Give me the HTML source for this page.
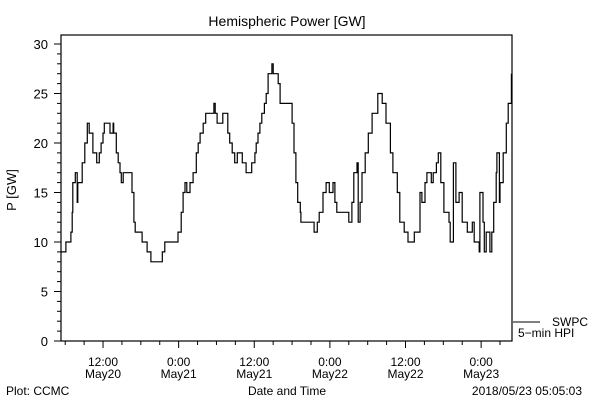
<!DOCTYPE html>
<html><head><meta charset="utf-8"><style>
body{margin:0;background:#fff}
svg{display:block;font-family:"Liberation Sans",sans-serif;font-size:12px}
</style></head><body>
<svg id="chart" width="600" height="400" viewBox="0 0 600 400">
<rect width="600" height="400" fill="#fff"/>
<text x="287" y="26" text-anchor="middle" font-size="14">Hemispheric Power [GW]</text>
<text transform="translate(16,190) rotate(-90)" text-anchor="middle" font-size="13">P [GW]</text>
<text x="287" y="395" text-anchor="middle">Date and Time</text>
<text x="6" y="395">Plot: CCMC</text>
<text x="582" y="395" text-anchor="end">2018/05/23 05:05:03</text>
<g id="axes"></g>
<g id="series"></g>
<line x1="513" y1="322" x2="540" y2="322" stroke="#000"/>
<text x="552" y="326">SWPC</text>
<text x="518" y="337">5−min HPI</text>
</svg>
<script>
const times=[5.3,6.1,6.8,6.9,7.1,7.2,7.6,7.9,8.0,8.3,8.7,9.1,9.5,9.8,10.4,11.0,11.4,11.7,12.0,12.2,12.9,13.1,13.6,13.7,14.1,14.4,14.7,14.9,15.2,16.3,16.6,16.9,17.1,17.9,18.2,18.8,19.0,19.6,21.2,21.4,21.8,23.7,23.9,24.4,24.7,25.0,25.3,25.8,26.3,26.8,27.1,27.4,27.9,28.3,29.5,29.6,29.8,30.1,30.9,31.0,31.5,31.8,32.1,32.5,32.9,33.3,33.7,34.1,34.7,35.5,35.6,36.1,36.3,36.6,36.9,37.2,37.6,37.9,38.2,38.8,39.0,39.8,40.1,41.8,42.0,42.3,42.6,42.9,43.3,43.4,45.2,45.5,46.0,46.3,46.9,47.4,47.9,48.5,48.8,49.1,50.6,51.0,51.5,51.8,52.3,52.5,52.8,53.1,53.6,54.1,54.7,55.6,56.3,56.9,57.6,58.0,58.7,59.1,59.8,60.4,61.4,62.3,62.6,63.1,63.4,64.1,64.4,64.9,65.2,65.6,66.1,66.9,67.1,67.6,68.0,68.5,69.0,69.8,70.6,70.9,71.7,71.8,72.3,72.5,72.8,73.3,73.4,73.7,74.0,74.4,74.5,74.9,75.0,75.5,76.0,76.3,76.8];
const power=[9,10,10,11,13,16,17,14,16,16,18,20,22,21,19,18,19,20,21,22,22,21,22,21,19,18,17,16,17,17,15,12,11,11,10,10,9,8,8,9,10,10,11,13,15,16,15,16,17,19,20,21,22,23,23,24,23,22,22,23,23,21,20,19,18,19,19,18,17,17,18,19,20,21,22,23,24,25,27,28,27,26,24,24,22,19,16,14,13,12,12,11,12,13,15,16,15,16,14,13,13,12,14,17,18,12,14,17,19,21,23,25,24,22,19,17,15,12,11,10,11,15,14,16,17,16,17,18,19,16,13,12,10,18,14,15,12,11,12,10,9,15,12,9,11,11,9,11,14,17,19,14,16,19,22,24,27];
const yTicks=[0,5,10,15,20,25,30];
const xMajor=[12,24,36,48,60,72];
const xLabels=[["12:00","May20"],["0:00","May21"],["12:00","May21"],["0:00","May22"],["12:00","May22"],["0:00","May23"]];
const T0=5.33,T1=76.9,X0=61,X1=512,Y0=341,Ymax=30,Ytop=44;
const xs=h=>X0+(h-T0)*(X1-X0)/(T1-T0);
const ys=v=>Y0-v*(Y0-Ytop)/Ymax;
const NS="http://www.w3.org/2000/svg";
const ax=document.getElementById('axes');
function mk(tag,attrs,parent){const e=document.createElementNS(NS,tag);for(const k in attrs)e.setAttribute(k,attrs[k]);parent.appendChild(e);return e;}
const frame=mk('rect',{x:X0,y:35,width:X1-X0,height:Y0-35,fill:'none',stroke:'#000','stroke-width':1.2},ax);


for(let v=0;v<=30;v++){const major=v%5===0;const t=mk('line',{x1:X0,x2:X0-(major?7:4),y1:ys(v),y2:ys(v),stroke:'#000'},ax);

}
yTicks.forEach(v=>{const t=mk('text',{x:48,y:ys(v)+5,'text-anchor':'end','font-size':13},ax);t.textContent=v;

});
for(let h=6;h<=T1;h+=3){const major=xMajor.includes(h);const t=mk('line',{x1:xs(h),x2:xs(h),y1:Y0,y2:Y0+(major?7:4),stroke:'#000'},ax);

}
xMajor.forEach((h,i)=>{const t=mk('text',{x:xs(h),y:366,'text-anchor':'middle'},ax);t.textContent=xLabels[i][0];


const d=mk('text',{x:xs(h),y:378,'text-anchor':'middle'},ax);d.textContent=xLabels[i][1];

});
let d='M'+xs(times[0])+' '+ys(power[0]);
for(let i=1;i<times.length;i++){d+=' H'+xs(times[i]).toFixed(1)+' V'+ys(power[i]).toFixed(1);}
const p=mk('path',{d:d,fill:'none',stroke:'#000','stroke-width':1.2},document.getElementById('series'));


</script>
</body></html>
